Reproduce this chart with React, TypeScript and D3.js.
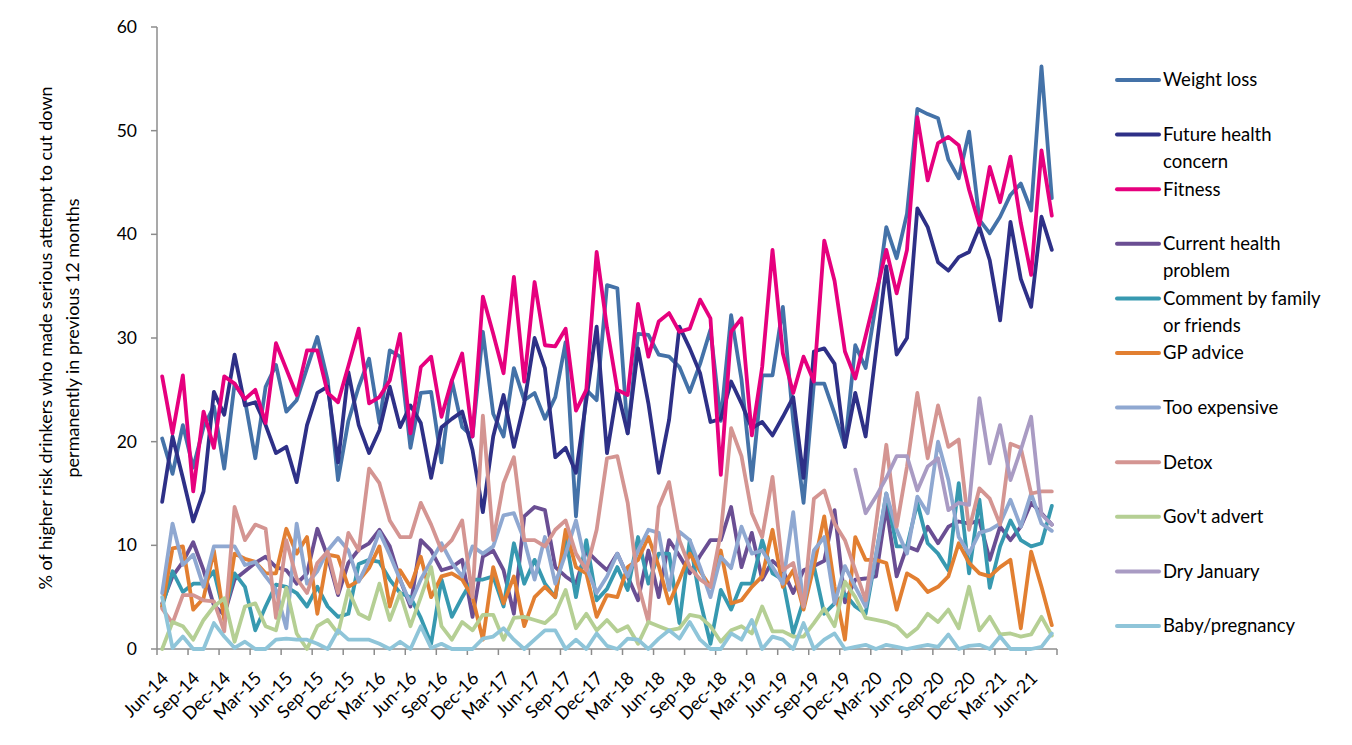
import React from 'react';
import * as d3 from 'd3';

// Jun-14 .. Aug-21, one category per month
const months: string[] = d3
  .timeMonths(new Date(2014, 5, 1), new Date(2021, 8, 1))
  .map(d3.timeFormat('%b-%y'));

const yTicks = [0, 10, 20, 30, 40, 50, 60];

const weightLoss = [20.3, 16.9, 21.6, 17.5, 21.4, 23.4, 17.4, 25.6, 24.0, 18.4, 25.3, 27.4, 22.9, 24.0, 27.1, 30.1, 25.9, 16.3, 22.0, 25.3, 28.0, 21.8, 28.8, 28.2, 19.4, 24.7, 24.8, 18.0, 25.9, 21.4, 20.5, 30.6, 22.7, 20.5, 27.1, 24.0, 24.7, 22.2, 24.3, 29.6, 12.8, 25.0, 24.0, 35.1, 34.8, 20.8, 30.4, 30.3, 28.4, 28.2, 27.2, 24.8, 27.5, 30.8, 22.0, 32.2, 26.0, 16.3, 26.4, 26.4, 33.0, 22.0, 14.1, 25.6, 25.6, 22.7, 19.5, 29.3, 27.1, 33.3, 40.7, 37.7, 42.0, 52.1, 51.6, 51.2, 47.2, 45.4, 49.9, 41.4, 40.1, 41.7, 43.8, 44.9, 42.3, 56.2, 43.5];
const futureHealth = [14.2, 20.5, 16.5, 12.3, 15.2, 24.8, 22.6, 28.4, 23.5, 23.8, 21.6, 18.9, 19.5, 16.1, 21.6, 24.7, 25.3, 18.0, 26.7, 21.6, 18.9, 21.1, 25.3, 21.4, 23.5, 21.8, 16.5, 21.4, 22.2, 22.9, 19.2, 13.2, 20.5, 24.5, 19.5, 23.7, 30.0, 27.1, 18.5, 19.4, 17.0, 24.0, 31.1, 18.9, 25.0, 20.8, 29.0, 23.7, 17.0, 22.1, 31.1, 29.0, 26.6, 21.9, 22.2, 25.8, 23.7, 21.3, 21.9, 20.6, 22.4, 24.3, 16.5, 28.7, 29.0, 27.5, 19.5, 24.7, 20.5, 28.7, 36.9, 28.4, 30.0, 42.5, 40.7, 37.3, 36.5, 37.8, 38.3, 40.7, 37.5, 31.7, 41.2, 35.7, 33.0, 41.7, 38.5];
const fitness = [26.3, 20.8, 26.4, 15.2, 22.9, 19.4, 26.3, 25.6, 24.1, 25.0, 21.8, 29.5, 27.0, 24.5, 28.8, 28.8, 24.7, 23.8, 27.3, 30.9, 23.7, 24.3, 25.9, 30.4, 20.8, 27.2, 28.2, 22.4, 25.9, 28.5, 20.5, 34.0, 30.4, 26.6, 35.9, 25.8, 35.4, 29.3, 29.2, 30.9, 23.0, 25.0, 38.3, 31.0, 25.0, 24.5, 33.3, 28.2, 31.6, 32.4, 30.6, 30.9, 33.7, 31.9, 16.8, 30.6, 31.9, 20.6, 27.2, 38.5, 28.5, 24.7, 28.2, 25.8, 39.4, 35.5, 28.7, 26.1, 30.2, 34.3, 38.5, 34.3, 38.5, 51.3, 45.2, 48.8, 49.4, 48.6, 44.3, 40.9, 46.5, 43.1, 47.5, 41.1, 36.1, 48.1, 41.8];
const currentHealth = [4.4, 7.0, 8.4, 10.3, 7.6, 4.2, 3.3, 6.7, 7.5, 8.3, 8.9, 7.9, 7.6, 6.3, 7.3, 11.6, 8.9, 5.2, 8.3, 9.6, 10.2, 11.5, 9.9, 6.7, 4.1, 10.5, 9.5, 7.6, 7.9, 8.6, 3.1, 8.9, 9.5, 7.6, 3.4, 12.8, 13.7, 13.4, 7.9, 7.0, 6.3, 9.5, 8.5, 7.6, 9.2, 7.0, 4.7, 9.5, 5.0, 10.5, 9.0, 7.3, 9.0, 10.5, 10.5, 13.7, 7.9, 11.2, 6.7, 8.5, 7.6, 5.4, 7.6, 8.0, 8.5, 13.4, 4.5, 6.7, 6.8, 7.0, 13.7, 7.0, 9.9, 9.5, 11.8, 10.2, 11.8, 12.3, 12.1, 12.4, 8.6, 11.8, 10.5, 11.8, 14.1, 13.1, 12.0];
const commentFamily = [4.1, 7.5, 5.5, 6.3, 6.3, 7.5, 3.4, 7.3, 6.0, 1.8, 4.1, 6.2, 6.0, 5.4, 4.1, 6.0, 4.1, 3.1, 3.4, 8.2, 8.6, 8.4, 6.7, 5.4, 5.0, 3.0, 0.5, 6.7, 3.1, 5.0, 6.7, 6.7, 7.0, 4.1, 10.2, 6.3, 8.6, 6.3, 5.0, 10.8, 5.0, 10.5, 4.7, 5.8, 7.9, 5.7, 10.8, 6.3, 9.2, 9.2, 2.5, 10.5, 4.7, 0.5, 5.7, 3.8, 6.3, 6.3, 10.5, 7.3, 6.7, 1.5, 4.7, 8.0, 3.4, 4.4, 5.3, 4.1, 3.4, 9.0, 15.0, 9.9, 9.9, 14.1, 10.2, 9.2, 7.6, 16.0, 7.3, 14.4, 5.9, 9.9, 12.4, 10.5, 9.9, 10.2, 13.8];
const gpAdvice = [4.1, 9.7, 9.9, 3.8, 4.9, 9.5, 2.8, 9.2, 8.7, 8.4, 7.3, 7.3, 11.6, 9.2, 10.8, 3.4, 9.1, 8.9, 6.0, 6.6, 7.8, 9.9, 4.1, 7.6, 6.0, 8.9, 5.0, 7.0, 7.3, 6.7, 5.0, 0.9, 7.9, 4.4, 7.0, 2.2, 5.0, 6.0, 5.0, 11.5, 7.9, 7.3, 3.1, 5.2, 5.0, 7.9, 8.6, 10.8, 8.0, 4.4, 6.7, 9.2, 7.5, 6.0, 9.5, 4.4, 4.7, 6.0, 7.0, 11.5, 6.0, 7.6, 3.8, 8.0, 12.8, 6.0, 0.9, 10.8, 8.6, 8.6, 8.3, 3.8, 7.3, 6.7, 5.5, 6.0, 7.0, 10.2, 8.3, 7.3, 7.0, 7.9, 8.6, 2.0, 9.4, 6.0, 2.3];
const tooExpensive = [5.4, 12.1, 8.1, 9.1, 6.0, 9.9, 9.9, 9.9, 8.1, 8.4, 7.0, 5.7, 2.0, 12.1, 6.3, 7.5, 9.5, 10.7, 9.5, 6.5, 8.6, 11.3, 9.1, 6.7, 4.4, 6.7, 8.5, 10.2, 8.3, 7.0, 9.9, 9.2, 9.9, 12.9, 13.1, 10.5, 6.7, 10.8, 6.3, 9.2, 12.4, 7.9, 5.4, 7.0, 9.2, 7.0, 9.5, 11.5, 11.2, 5.7, 11.3, 10.5, 7.9, 5.0, 8.9, 7.8, 11.8, 9.2, 9.5, 7.9, 6.3, 13.2, 4.1, 9.5, 10.8, 4.4, 8.0, 6.0, 4.1, 9.0, 15.0, 11.5, 9.2, 14.7, 13.1, 20.0, 16.3, 10.8, 9.2, 11.2, 11.5, 12.1, 14.4, 11.8, 15.0, 12.1, 11.4];
const detox = [3.9, 2.5, 5.2, 5.2, 4.7, 4.6, 1.7, 13.7, 10.5, 12.0, 11.6, 3.0, 10.5, 6.8, 5.4, 8.3, 9.4, 5.4, 11.2, 9.5, 17.4, 16.0, 12.4, 10.8, 10.8, 14.1, 12.0, 9.5, 10.5, 12.4, 5.0, 22.5, 10.5, 16.0, 18.5, 10.5, 10.5, 9.9, 11.5, 12.4, 9.2, 7.6, 11.5, 18.4, 18.6, 14.1, 6.3, 2.6, 13.7, 16.1, 10.5, 7.9, 6.7, 6.0, 11.2, 21.3, 18.6, 13.1, 10.8, 16.6, 7.6, 8.3, 4.1, 14.5, 15.3, 12.1, 10.5, 7.6, 4.7, 12.0, 19.7, 11.8, 17.6, 24.7, 18.4, 23.5, 19.5, 20.2, 11.5, 15.5, 14.5, 12.0, 19.8, 19.4, 15.0, 15.2, 15.2];
const govAdvert = [0.0, 2.6, 2.2, 0.9, 2.8, 4.1, 4.9, 0.7, 4.1, 4.4, 2.2, 1.8, 5.9, 1.5, 0.0, 2.2, 2.8, 1.5, 5.7, 3.4, 2.9, 6.3, 2.8, 5.4, 2.2, 5.0, 7.9, 2.2, 0.9, 2.6, 1.8, 3.3, 3.3, 0.9, 3.0, 3.1, 2.8, 2.5, 3.4, 5.7, 2.0, 3.4, 1.8, 2.8, 1.7, 2.2, 0.5, 2.6, 2.2, 1.8, 2.0, 3.3, 3.1, 2.2, 0.7, 1.8, 2.2, 1.5, 4.1, 1.7, 1.7, 1.2, 1.2, 2.5, 3.9, 2.2, 6.5, 5.0, 3.0, 2.8, 2.6, 2.2, 1.2, 2.0, 3.4, 2.6, 3.8, 2.0, 6.0, 1.8, 3.1, 1.4, 1.5, 1.2, 1.4, 3.1, 1.3];
const dryJanuary: (number | null)[] = [
  ...Array(67).fill(null),
  17.3, 13.1, 14.7, 16.5, 18.6, 18.6, 15.3, 17.6, 18.4, 13.4, 14.1, 13.9, 24.2, 17.9, 21.6, 16.3, 19.2, 22.4, 13.0, 12.0,
];
const babyPregnancy = [5.0, 0.1, 1.2, 0.0, 0.0, 2.5, 1.2, 0.1, 0.7, 0.0, 0.0, 0.9, 1.0, 0.9, 0.9, 0.5, 0.0, 1.8, 0.9, 0.9, 0.9, 0.5, 0.0, 0.7, 0.0, 2.2, 0.1, 0.5, 0.0, 0.0, 0.0, 1.0, 1.2, 2.0, 0.9, 0.0, 0.9, 1.8, 1.8, 0.0, 0.9, 0.0, 1.5, 0.3, 0.0, 1.0, 0.9, 0.0, 1.0, 1.8, 1.0, 2.6, 0.9, 0.0, 0.0, 1.5, 0.9, 2.8, 0.0, 1.2, 0.9, 0.0, 2.5, 0.0, 0.9, 1.5, 0.0, 0.2, 0.4, 0.0, 0.4, 0.2, 0.0, 0.2, 0.4, 0.2, 1.4, 0.0, 0.3, 0.4, 0.0, 1.2, 0.0, 0.0, 0.0, 0.2, 1.5];

const series = [
  { name: ['Weight loss'], color: '#4472a8', values: weightLoss },
  { name: ['Future health', 'concern'], color: '#2e3087', values: futureHealth },
  { name: ['Fitness'], color: '#e6007e', values: fitness },
  { name: ['Current health', 'problem'], color: '#6a4e93', values: currentHealth },
  { name: ['Comment by family', 'or friends'], color: '#3799b0', values: commentFamily },
  { name: ['GP advice'], color: '#e27f31', values: gpAdvice },
  { name: ['Too expensive'], color: '#8fa8d1', values: tooExpensive },
  { name: ['Detox'], color: '#d49592', values: detox },
  { name: ["Gov't advert"], color: '#b5cf94', values: govAdvert },
  { name: ['Dry January'], color: '#a99bc3', values: dryJanuary },
  { name: ['Baby/pregnancy'], color: '#8fc5d9', values: babyPregnancy },
];

const W = 1352;
const H = 745;
const FONT = 'Lato, "Open Sans", sans-serif';

export default function App() {
  const x = d3.scaleBand<string>().domain(months).range([157, 1057]).padding(0);
  const bw = x.bandwidth();
  const y = d3.scaleLinear().domain([0, 60]).range([649, 27]);

  const line = d3
    .line<number | null>()
    .defined((d) => d != null)
    .x((_, i) => (x(months[i]) as number) + bw / 2)
    .y((d) => y(d as number));

  const axisColor = '#8c8c8c';
  const tickIdx = d3.range(0, months.length + 1, 3);
  const midY = (y(0) + y(60)) / 2;

  return (
    <svg width={W} height={H} style={{ position: 'absolute', left: 0, top: 0, background: '#fff' }} fontFamily={FONT}>
      {/* y axis */}
      <line x1={157} x2={157} y1={y(60)} y2={y(0)} stroke={axisColor} strokeWidth={1.5} />
      {yTicks.map((t) => (
        <g key={t}>
          <line x1={151} x2={157} y1={y(t)} y2={y(t)} stroke={axisColor} strokeWidth={1.5} />
          <text x={137} y={y(t)} dy="0.35em" textAnchor="end" fontSize={17.5} fill="#000">
            {t}
          </text>
        </g>
      ))}
      <text transform={`translate(46,${midY}) rotate(-90)`} textAnchor="middle" dy="0.35em" fontSize={18}>
        % of higher risk drinkers who made serious attempt to cut down
      </text>
      <text transform={`translate(73,${midY}) rotate(-90)`} textAnchor="middle" dy="0.35em" fontSize={18}>
        permanently in previous 12 months
      </text>

      {/* x axis */}
      <line x1={157} x2={1057} y1={y(0)} y2={y(0)} stroke={axisColor} strokeWidth={1.5} />
      {tickIdx.map((i) => {
        const tx = i < months.length ? (x(months[i]) as number) : 157 + i * bw;
        return <line key={i} x1={tx} x2={tx} y1={y(0)} y2={y(0) + 6} stroke={axisColor} strokeWidth={1.5} />;
      })}
      {months.map((m, i) =>
        i % 3 === 0 ? (
          <text
            key={m}
            transform={`translate(${(x(m) as number) + bw / 2 + 3},${y(0) + 26}) rotate(-45)`}
            textAnchor="end"
            dy="0.35em"
            fontSize={18}
          >
            {m}
          </text>
        ) : null,
      )}

      {/* series */}
      {series.map((s) => (
        <path
          key={s.name.join(' ')}
          d={line(s.values as (number | null)[]) || ''}
          fill="none"
          stroke={s.color}
          strokeWidth={3.8}
          strokeLinejoin="round"
          strokeLinecap="round"
        />
      ))}

      {/* legend */}
      {series.map((s, i) => {
        const ly = 80 + i * 54.6;
        return (
          <g key={'lg' + i}>
            <line x1={1117} x2={1159} y1={ly} y2={ly} stroke={s.color} strokeWidth={4} strokeLinecap="round" />
            {s.name.map((n, j) => (
              <text key={n} x={1163} y={ly + j * 27} dy="0.35em" fontSize={18.5}>
                {n}
              </text>
            ))}
          </g>
        );
      })}
    </svg>
  );
}
